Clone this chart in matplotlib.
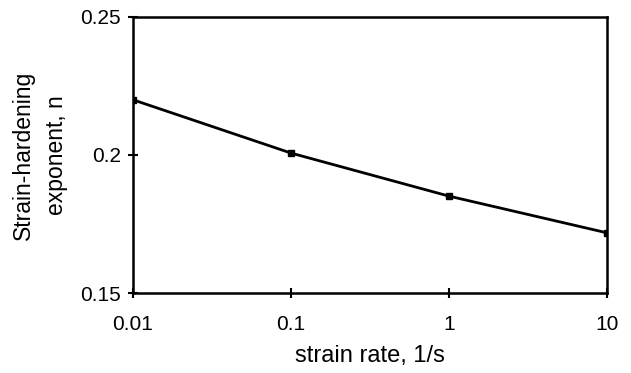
import matplotlib
matplotlib.use("Agg")
import matplotlib.pyplot as plt
from matplotlib.ticker import FixedLocator, FixedFormatter, NullLocator

strain_rate = [0.01, 0.1, 1, 10]
n_values = [0.220, 0.2007, 0.1851, 0.1718]
x_ticks = [0.01, 0.1, 1, 10]
x_labels = ["0.01", "0.1", "1", "10"]
y_ticks = [0.15, 0.2, 0.25]
y_labels = ["0.15", "0.2", "0.25"]

plt.rcParams['font.family'] = ['Liberation Sans', 'DejaVu Sans']
fig = plt.figure(figsize=(6.31, 3.73), dpi=100)
ax = fig.add_axes([133/631, 1-293/373, (607-133)/631, (293-17)/373])
ax.plot(strain_rate, n_values, color='black', lw=2, marker='s', ms=5)
ax.set_xscale('log')
ax.set_xlim(0.01, 10)
ax.set_ylim(0.15, 0.25)
ax.xaxis.set_major_locator(FixedLocator(x_ticks))
ax.xaxis.set_major_formatter(FixedFormatter(x_labels))
ax.xaxis.set_minor_locator(NullLocator())
ax.yaxis.set_major_locator(FixedLocator(y_ticks))
ax.yaxis.set_major_formatter(FixedFormatter(y_labels))
for s in ax.spines.values():
    s.set_linewidth(1.8)
ax.tick_params(direction='inout', length=7, width=1.5, labelsize=15, colors='black')
ax.tick_params(axis='x', pad=12)
ax.tick_params(axis='y', pad=5)
ax.set_xlabel("strain rate, 1/s", fontsize=17, labelpad=8)
ax.set_ylabel("Strain-hardening\nexponent, n", fontsize=16.5, labelpad=9, linespacing=1.55)
fig.savefig("out.png", dpi=100)
